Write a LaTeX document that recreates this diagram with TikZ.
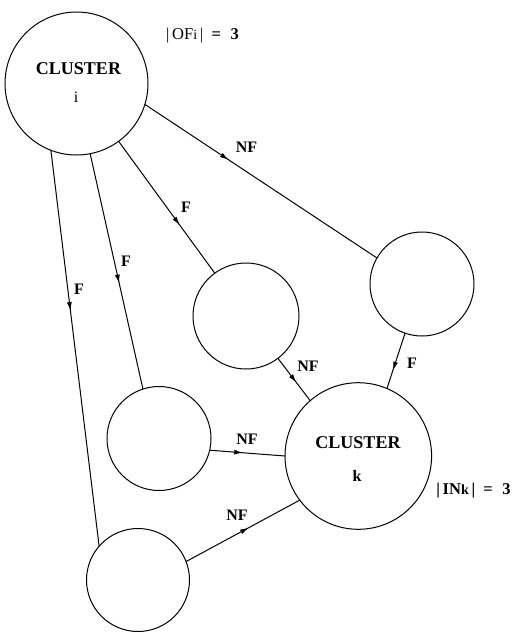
\documentclass[tikz,border=0pt]{standalone}
\usepackage{fontspec}
\setmainfont{Liberation Serif}
\usetikzlibrary{arrows.meta,decorations.markings}
\begin{document}
\begin{tikzpicture}[x=1pt,y=-1pt,
  every node/.style={inner sep=0pt,outer sep=0pt},
  blob/.style={circle,draw,line width=1pt,minimum size=#1},
  edge/.style={line width=1pt},
  midarrow/.style={postaction={decorate,decoration={markings,
      mark=at position #1 with {\arrow{Latex[length=8.5pt,width=5pt]}}}}},
  lbl/.style={font=\fontsize{16}{18}\selectfont\bfseries},
  ctitle/.style={font=\fontsize{18}{20}\selectfont\bfseries},
]
\useasboundingbox (0,0) rectangle (516,633);

% clusters and intermediate sets
\node[blob=143pt] (i) at (76.5,83.5) {};
\node[blob=146.6pt] (k) at (358.3,456) {};
\node[blob=106pt] (A) at (246,316) {};
\node[blob=104pt] (B) at (422,284) {};
\node[blob=104pt] (C) at (159,438.5) {};
\node[blob=103pt] (D) at (138,580) {};

% cluster captions
\node[ctitle] (ti) at (78.5,69) {CLUSTER};
\node[font=\fontsize{16}{18}\selectfont] (ni) at (76,97.5) {i};
\node[ctitle] (tk) at (358,443) {CLUSTER};
\node[lbl] (nk) at (357,476) {k};

% cardinality notes
\node[font=\fontsize{16.5}{18}\selectfont] (of) at (202.5,36)
  {|\,OF{\fontsize{14}{16}\selectfont i}\,|\enspace\textbf{=\,\, 3}};
\node[font=\fontsize{16.5}{18}\selectfont\bfseries] (in) at (473.5,491)
  {|\,IN{\fontsize{14}{16}\selectfont k}\,|\enspace=\,\, 3};

% connectors
\draw[edge,midarrow=0.36] (i.343) -- (B.150);
\draw[edge,midarrow=0.635] (i) -- (A);
\draw[edge,midarrow=0.55] (i.281.8) -- (C.108.6);
\draw[edge,midarrow=0.405] (i.249.4) -- (D.139.5);
\draw[edge,midarrow=0.57] (A.307.3) -- (k.131.6);
\draw[edge,midarrow=0.67] (B.251.6) -- (k.67.2);
\draw[edge,midarrow=0.44] (C.347) -- (k.180);
\draw[edge,midarrow=0.55] (D.21.2) -- (k.217.5);

% connector labels
\node[lbl] (l1) at (246.5,147.5) {NF};
\node[lbl] (l2) at (186,207) {F};
\node[lbl] (l3) at (126,261) {F};
\node[lbl] (l4) at (79,289) {F};
\node[lbl] (l5) at (308,366) {NF};
\node[lbl] (l6) at (412,363) {F};
\node[lbl] (l7) at (247,439) {NF};
\node[lbl] (l8) at (237,515) {NF};
\end{tikzpicture}
\end{document}
